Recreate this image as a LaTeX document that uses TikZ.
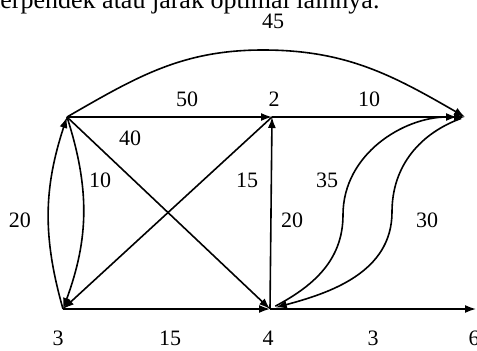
\documentclass[tikz,border=0pt]{standalone}
\usepackage{fontspec}
\setmainfont{Liberation Serif}
\usetikzlibrary{arrows.meta}
\begin{document}
\begin{tikzpicture}[x=1pt,y=-1pt,
  edge/.style={line width=1.6pt,-{Latex[length=11pt,width=8pt]}},
  lbl/.style={font=\fontsize{22}{22}\selectfont, inner sep=0pt}]
\useasboundingbox (0,0) rectangle (477,351);
\node[anchor=base west, font=\fontsize{26}{26}\selectfont, inner sep=0pt] (cap) at (-7,8) {terpendek atau jarak optimal lainnya.};
% vertices
\coordinate (n1) at (67,117);
\coordinate (n2) at (272,117);
\coordinate (n5) at (465,117);
\coordinate (n3) at (63,309);
\coordinate (n4) at (270,309);
\coordinate (n6) at (476,309);
\coordinate (pk) at (263,50);
\coordinate (s1) at (343,215);
\coordinate (s2) at (392,212);
% edges
\draw[edge] (n1) to[out=30,in=180] (pk) to[out=0,in=150] (n5);
\draw[edge] (n1) -- (n2);
\draw[edge] (n2) -- (n5);
\draw[edge] (n1) -- (n4);
\draw[edge] (n4) -- (n2);
\draw[edge] (n2) -- (n3);
\draw[edge] (n3) -- (n4);
\draw[edge] (n4) -- (n6);
\draw[edge] (n3) to[bend left=17] (n1);
\draw[edge] (n1) to[bend left=19] (n3);
\draw[edge, shorten <=6pt, shorten >=8pt] (n4) to[out=28,in=-90] (s1) to[out=90,in=180] (n5);
\draw[edge, shorten <=4pt, shorten >=6pt] (n5) to[out=200,in=90] (s2) to[out=-90,in=15] (n4);
% labels
\node[lbl] (l45) at (273,21) {45};
\node[lbl] (l50) at (187,99) {50};
\node[lbl] (v2) at (274,99) {2};
\node[lbl] (l10a) at (369,99) {10};
\node[lbl] (l40) at (130,138) {40};
\node[lbl] (l10b) at (100,180) {10};
\node[lbl] (l20a) at (20,220) {20};
\node[lbl] (l15a) at (247,180) {15};
\node[lbl] (l20b) at (292,220) {20};
\node[lbl] (l35) at (327,180) {35};
\node[lbl] (l30) at (427,220) {30};
\node[lbl] (v3) at (58,338) {3};
\node[lbl] (l15b) at (170,338) {15};
\node[lbl] (v4) at (268,338) {4};
\node[lbl] (l3) at (373,338) {3};
\node[lbl] (v6) at (474,338) {6};
\end{tikzpicture}
\end{document}
